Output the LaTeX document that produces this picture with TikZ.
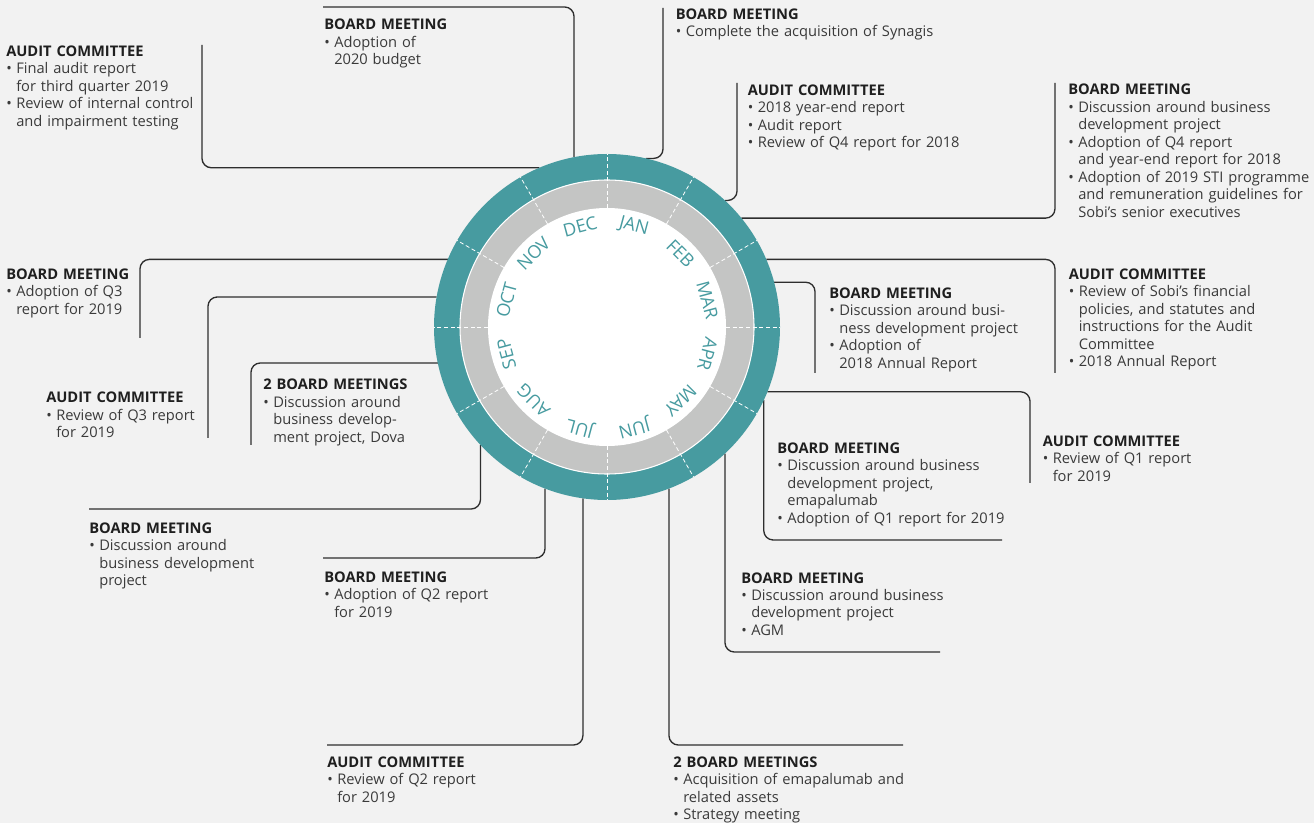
\documentclass[tikz,border=0pt]{standalone}
\usepackage{fontspec}
\setmainfont{Open Sans}
\definecolor{ringteal}{HTML}{479BA0}
\definecolor{ringgray}{HTML}{C4C5C4}
\definecolor{paper}{HTML}{F2F2F2}
\definecolor{wire}{HTML}{2E2E2E}
\definecolor{ink}{HTML}{3A3A3A}
\definecolor{headink}{HTML}{1F1F1F}
\newcommand{\nl}{\hfil\break}
\newcommand{\bul}[1]{\par\hangindent=7.5pt\hangafter=1\noindent\makebox[7.5pt][l]{\textbullet}#1\par}
\newcommand{\head}[1]{{\bfseries\color{headink}#1}}
\tikzset{
  note/.style={anchor=base west, inner sep=0pt, text width=200pt, align=left,
    text=ink, font=\fontsize{11}{13.1}\selectfont},
  link/.style={draw=wire, line width=1pt, rounded corners=7pt},
  month/.style={text=ringteal, font=\fontsize{13.5}{13.5}\selectfont, inner sep=0pt},
  monthsep/.style={white, densely dashed, line width=0.6pt}
}
\begin{document}
\begin{tikzpicture}[x=0.75pt, y=-0.75pt]
  \useasboundingbox[fill=paper] (0,0) rectangle (1314,823);
  \node[circle, minimum size=259.5pt, inner sep=0pt, outer sep=0pt] (wheel) at (607,327) {};

  \node[note] (budget) at (324,30) {\head{BOARD MEETING}\bul{Adoption of\nl 2020 budget}};
  \node[note] (finalaudit) at (6,56.5) {\head{AUDIT COMMITTEE}\bul{Final audit report\nl for third quarter 2019}\bul{Review of internal control\nl and impairment testing}};
  \node[note] (synagis) at (675.5,19.3) {\head{BOARD MEETING}\bul{Complete the acquisition of Synagis}};
  \node[note] (yearend) at (747.5,95.5) {\head{AUDIT COMMITTEE}\bul{2018 year-end report}\bul{Audit report}\bul{Review of Q4 report for 2018}};
  \node[note] (stiplan) at (1068,95) {\head{BOARD MEETING}\bul{Discussion around business\nl development project}\bul{Adoption of Q4 report\nl and year-end report for 2018}\bul{Adoption of 2019 STI programme\nl and remuneration guidelines for\nl Sobi’s senior executives}};
  \node[note] (policies) at (1068.5,279.3) {\head{AUDIT COMMITTEE}\bul{Review of Sobi’s financial\nl policies, and statutes and\nl instructions for the Audit\nl Committee}\bul{2018 Annual Report}};
  \node[note] (annual) at (829,298.3) {\head{BOARD MEETING}\bul{Discussion around busi-\nl ness development project}\bul{Adoption of\nl 2018 Annual Report}};
  \node[note] (qoneaudit) at (1042.5,446.5) {\head{AUDIT COMMITTEE}\bul{Review of Q1 report\nl for 2019}};
  \node[note] (emapa) at (777,453.3) {\head{BOARD MEETING}\bul{Discussion around business\nl development project,\nl emapalumab}\bul{Adoption of Q1 report for 2019}};
  \node[note] (agm) at (741,583) {\head{BOARD MEETING}\bul{Discussion around business\nl development project}\bul{AGM}};
  \node[note] (acquis) at (673,767.3) {\head{2 BOARD MEETINGS}\bul{Acquisition of emapalumab and\nl related assets}\bul{Strategy meeting}};
  \node[note] (qtwoaudit) at (327,767.3) {\head{AUDIT COMMITTEE}\bul{Review of Q2 report\nl for 2019}};
  \node[note] (qtwo) at (324,582.5) {\head{BOARD MEETING}\bul{Adoption of Q2 report\nl for 2019}};
  \node[note] (bizdev) at (89,533.3) {\head{BOARD MEETING}\bul{Discussion around\nl business development\nl project}};
  \node[note] (dova) at (263,390) {\head{2 BOARD MEETINGS}\bul{Discussion around\nl business develop-\nl ment project, Dova}};
  \node[note] (qthreeaudit) at (46,402.7) {\head{AUDIT COMMITTEE}\bul{Review of Q3 report\nl for 2019}};
  \node[note] (qthree) at (6,279.3) {\head{BOARD MEETING}\bul{Adoption of Q3\nl report for 2019}};

  \coordinate (budget-end) at (323,7);
  \coordinate (finalaudit-end) at (202,45);
  \coordinate (synagis-end) at (663,8);
  \coordinate (yearend-end) at (737,83);
  \coordinate (stiplan-end) at (1055,83);
  \coordinate (policies-end) at (1055,373);
  \coordinate (annual-end) at (815,373);
  \coordinate (qoneaudit-end) at (1030,483);
  \coordinate (emapa-end) at (1002,540);
  \coordinate (agm-end) at (940,652);
  \coordinate (acquis-end) at (903,745);
  \coordinate (qtwoaudit-end) at (327,745);
  \coordinate (qtwo-end) at (323,558);
  \coordinate (bizdev-end) at (89,509);
  \coordinate (dova-end) at (251,445);
  \coordinate (qthreeaudit-end) at (208,438);
  \coordinate (qthree-end) at (140,338);

  \begin{scope}[link]
    \draw (wheel.101.7) |- (budget-end);
    \draw (wheel.113.2) -| (finalaudit-end);
    \draw (wheel.77) -| (synagis-end);
    \draw (wheel.47.8) -| (yearend-end);
    \draw (wheel.39.1) -| (stiplan-end);
    \draw (wheel.23.9) -| (policies-end);
    \draw (wheel.15.8) -| (annual-end);
    \draw (wheel.338.6) -| (qoneaudit-end);
    \draw (wheel.335.1) |- (emapa-end);
    \draw (wheel.313.9) |- (agm-end);
    \draw (wheel.291) |- (acquis-end);
    \draw (wheel.262.4) |- (qtwoaudit-end);
    \draw (wheel.249) |- (qtwo-end);
    \draw (wheel.223.2) |- (bizdev-end);
    \draw (wheel.192) -| (dova-end);
    \draw (wheel.170.3) -| (qthreeaudit-end);
    \draw (wheel.157.9) -| (qthree-end);
  \end{scope}

  \begin{scope}[shift={(607,327)}, y=0.75pt]
    \fill[ringteal] (0,0) circle (173);
    \fill[ringgray] (0,0) circle (147);
    \draw[white, line width=0.8pt] (0,0) circle (147);
    \fill[white] (0,0) circle (119);
    \foreach \a in {0,30,...,330}
      \draw[monthsep] (\a:119) -- (\a:173);
    \foreach \m [count=\i] in {JAN,FEB,MAR,APR,MAY,JUN,JUL,AUG,SEP,OCT,NOV,DEC} {
      \pgfmathsetmacro\a{105-30*\i}
      \node[month, rotate=\a-90] (m\i) at (\a:104) {\m};
    }
  \end{scope}
\end{tikzpicture}
\end{document}
